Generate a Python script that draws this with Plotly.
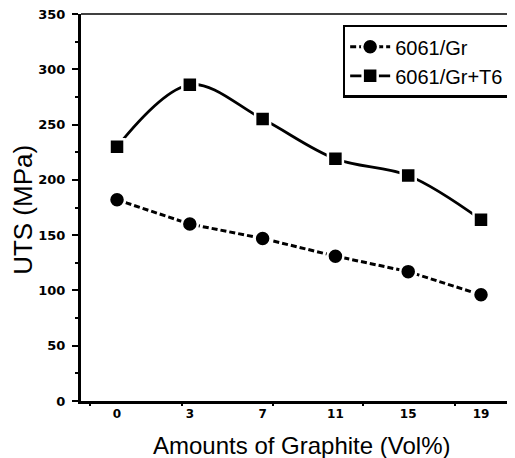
import plotly.graph_objects as go

categories = ["0", "3", "7", "11", "15", "19"]
gr_values = [182, 160, 147, 131, 117, 96]
t6_values = [230, 286, 255, 219, 204, 164]
y_ticks = [0, 50, 100, 150, 200, 250, 300, 350]

xpos = list(range(len(categories)))
font_family = "Arial, Liberation Sans, sans-serif"
tick_family = "DejaVu Sans, sans-serif"

fig = go.Figure()
fig.add_trace(go.Scatter(
    x=xpos, y=gr_values, name="6061/Gr", mode="lines+markers",
    line=dict(color="black", width=3, dash="6px,3px"),
    marker=dict(symbol="circle", size=16, color="black",
                line=dict(color="white", width=2.5)),
))
fig.add_trace(go.Scatter(
    x=xpos, y=t6_values, name="6061/Gr+T6", mode="lines+markers",
    line=dict(color="black", width=2.8, shape="spline", smoothing=1.0),
    marker=dict(symbol="square", size=15, color="black",
                line=dict(color="white", width=2.5)),
))
# secondary axis only for the reference's tick marks along the x axis
fig.add_trace(go.Scatter(x=[None], y=[None], xaxis="x2", showlegend=False,
                         hoverinfo="skip"))

xr = [-0.495, 5.467]
# the page body has an 8px margin, so the figure is 8px smaller on each side
fig.update_layout(
    width=507, height=450,
    margin=dict(l=73, r=0, t=6, b=57),
    paper_bgcolor="white", plot_bgcolor="white",
    font=dict(family=font_family, color="black"),
    showlegend=True,
    legend=dict(
        x=0.99, y=0.972, xanchor="right", yanchor="top",
        bgcolor="white", bordercolor="black", borderwidth=2.5,
        font=dict(size=20, family=font_family, color="black"),
        tracegroupgap=0, itemwidth=40,
    ),
    xaxis=dict(
        range=xr, tickvals=xpos, ticktext=categories,
        ticks="", showgrid=False, zeroline=False, automargin=False,
        showline=True, linecolor="black", linewidth=2.5, mirror=False,
        tickfont=dict(size=12, family=tick_family, weight="bold"),
    ),
    xaxis2=dict(
        overlaying="x", side="bottom", range=xr, automargin=False,
        tickvals=[-0.37, 0.89, 2.14, 3.38, 4.64],
        showticklabels=False, ticks="outside", ticklen=4, tickwidth=2,
        tickcolor="black", showgrid=False, zeroline=False, showline=False,
    ),
    yaxis=dict(
        range=[0, 350], tickvals=y_ticks, ticks="outside", ticklen=6,
        tickwidth=2, tickcolor="black", automargin=False,
        ticklabelstandoff=4, ticklabeloverflow="allow",
        minor=dict(dtick=25, ticks="outside", ticklen=3, tickwidth=1.5,
                   tickcolor="black"),
        showgrid=False, zeroline=False,
        showline=True, linecolor="black", linewidth=3,
        tickfont=dict(size=13, family=tick_family, weight="bold"),
    ),
    shapes=[dict(type="line", xref="paper", yref="paper", x0=0, x1=1,
                 y0=1, y1=1, line=dict(color="black", width=1.5))],
    annotations=[
        dict(text="Amounts of Graphite (Vol%)", xref="paper", yref="paper",
             x=0.507, y=-0.116, xanchor="center", yanchor="middle",
             showarrow=False, font=dict(size=24, family=font_family)),
        dict(text="UTS (MPa)", xref="paper", yref="paper",
             x=-0.134, y=0.4935, xanchor="center", yanchor="middle",
             textangle=-90, showarrow=False,
             font=dict(size=26, family=font_family)),
    ],
)

fig.write_html("out.html")
